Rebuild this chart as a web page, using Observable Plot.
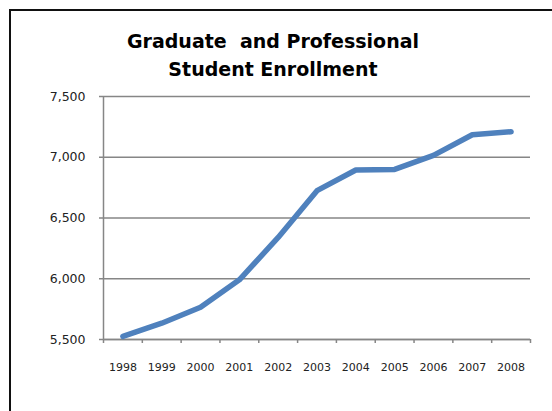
<!DOCTYPE html>
<html>
<head>
<meta charset="utf-8">
<script src="https://cdn.jsdelivr.net/npm/d3@7"></script>
<script src="https://cdn.jsdelivr.net/npm/@observablehq/plot@0.6"></script>
<style>
  html, body { margin: 0; padding: 0; background: #fff; overflow: hidden; }
  #wrap { position: relative; width: 552px; height: 411px; overflow: hidden; font-family: "DejaVu Sans", sans-serif; }
  #frame { position: absolute; left: 9px; top: 9px; width: 620px; height: 460px; border-top: 2px solid #111; border-left: 2px solid #111; box-sizing: border-box; pointer-events: none; }
  #title { height: 85px; box-sizing: border-box; padding-top: 27px; padding-right: 6px; text-align: center; font-weight: bold; font-size: 19px; line-height: 28px; color: #000; white-space: pre; }
  #chart svg { display: block; }
</style>
</head>
<body>
<div id="wrap">
  <div id="title">Graduate  and Professional
Student Enrollment</div>
  <div id="chart"></div>
  <div id="frame"></div>
</div>
<script>
const years = [1998, 1999, 2000, 2001, 2002, 2003, 2004, 2005, 2006, 2007, 2008];
const enrollment = [5525, 5634, 5766, 5991, 6340, 6725, 6895, 6900, 7015, 7185, 7210];
const yTicks = [5500, 6000, 6500, 7000, 7500];

const data = years.map((y, i) => ({year: y, value: enrollment[i]}));
const boundaries = years.map(y => y - 0.5).concat([years[years.length - 1] + 0.5]);
const fmt = d3.format(",");

const plot = Plot.plot({
  width: 552,
  height: 326,
  marginLeft: 103,
  marginRight: 22,
  marginTop: 11,
  marginBottom: 72,
  style: {fontFamily: "'DejaVu Sans', sans-serif", fontSize: "12px", color: "#222", background: "transparent"},
  x: {domain: [years[0] - 0.5, years[years.length - 1] + 0.5]},
  y: {domain: [yTicks[0], yTicks[yTicks.length - 1]]},
  marks: [
    Plot.gridY(yTicks, {stroke: "#868686", strokeOpacity: 1, strokeWidth: 1.5}),
    Plot.axisY({ticks: yTicks, tickFormat: fmt, tickSize: 4, tickPadding: 14, stroke: "#868686", strokeWidth: 1.5, label: null, fill: "#222", fontSize: "12.5px"}),
    Plot.ruleX([years[0] - 0.5], {stroke: "#868686", strokeWidth: 1.5}),
    Plot.ruleY([yTicks[0]], {stroke: "#868686", strokeWidth: 1.5}),
    Plot.axisX({ticks: boundaries, tickFormat: () => "", tickSize: 4, stroke: "#868686", strokeWidth: 1.5, label: null}),
    Plot.axisX({ticks: years, tickFormat: d => String(d), tickSize: 0, tickPadding: 24, label: null, fill: "#222", fontSize: "11px"}),
    Plot.line(data, {x: "year", y: "value", stroke: "#4F81BD", strokeWidth: 5.5, strokeLinecap: "round", strokeLinejoin: "round"})
  ]
});
document.getElementById("chart").appendChild(plot);
</script>
</body>
</html>
